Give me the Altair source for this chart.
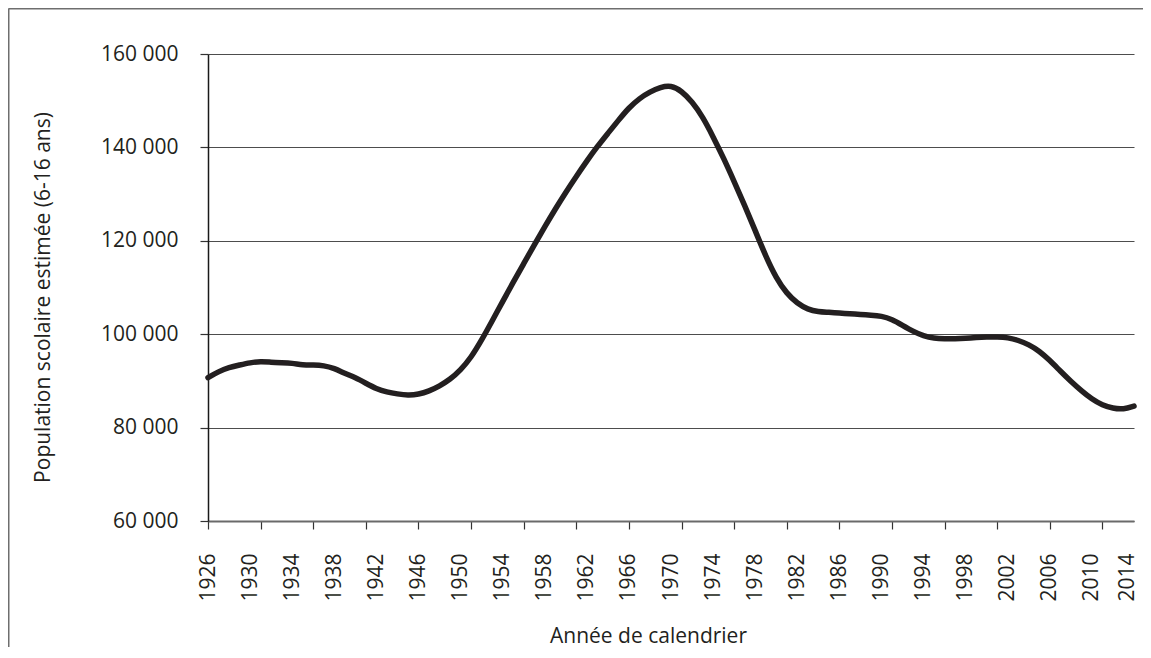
import altair as alt
import pandas as pd

years = list(range(1926, 2015))
population = [
    90700, 92000, 92900, 93400, 93900, 94200, 94000, 93900, 93800, 93400,
    93400, 93300, 92700, 91600, 90700, 89500, 88300, 87600, 87200, 86900,
    87100, 87800, 88900, 90300, 92300, 95000, 98700, 102800, 107000, 111100,
    115100, 119100, 123000, 126800, 130400, 133800, 137100, 140200, 143000, 145800,
    148500, 150500, 151900, 152900, 153300, 152100, 149800, 146600, 142300, 137700,
    132700, 127600, 122200, 116700, 112000, 108700, 106600, 105300, 104800, 104700,
    104500, 104400, 104200, 104100, 103900, 103200, 101900, 100600, 99600, 99100,
    99000, 99000, 99100, 99300, 99400, 99400, 99300, 98700, 97800, 96400,
    94400, 92100, 89900, 87900, 86100, 84800, 84100, 83900, 84600,
]

label_years = list(range(1926, 2015, 4))
tick_years = list(range(1926, 2015, 5))
axis_years = sorted(set(label_years) | set(tick_years))
y_ticks = [60000, 80000, 100000, 120000, 140000, 160000]

df = pd.DataFrame({"year": years, "pop": population})

FONT = "Open Sans"
TXT = "#231f20"

x_axis = alt.Axis(
    values=axis_years,
    labelExpr="(datum.value - 1926) % 4 === 0 ? toString(datum.value) : ''",
    labelAngle=270,
    labelAlign="right",
    labelBaseline="middle",
    labelOverlap=False,
    labelFlush=False,
    labelPadding=24,
    labelOffset={"condition": {"test": "datum.value === 2014", "value": -7}, "value": 0},
    labelFont=FONT,
    labelFontSize=21,
    labelColor=TXT,
    tickSize=8,
    tickColor="#333333",
    tickWidth=1.2,
    tickOpacity={"condition": {"test": "(datum.value - 1926) % 5 === 0", "value": 1}, "value": 0},
    domainColor="#6a6a6a",
    domainWidth=2,
    grid=False,
    title="Année de calendrier",
    titleFont=FONT,
    titleFontSize=21,
    titleFontWeight="normal",
    titleColor=TXT,
    titleX=440,
    titleY=121,
    titleAlign="center",
    titleBaseline="alphabetic",
)

y_axis = alt.Axis(
    values=y_ticks,
    labelExpr="replace(format(datum.value, ','), ',', ' ')",
    labelFont=FONT,
    labelFontSize=21,
    labelColor=TXT,
    labelPadding=22,
    tickSize=8,
    tickColor="#333333",
    tickWidth=1.2,
    domainColor="#1a1a1a",
    domainWidth=1.5,
    grid=True,
    gridColor="#4d4d4d",
    gridWidth=1.2,
    title="Population scolaire estimée (6-16 ans)",
    titleFont=FONT,
    titleFontSize=21,
    titleFontWeight="normal",
    titleColor=TXT,
    titleAngle=270,
    titleX=-165,
    titleY=243,
    titleAlign="center",
    titleBaseline="middle",
)

line = alt.Chart(df).mark_line(
    color="#231f20", strokeWidth=5.5, interpolate="basis", strokeJoin="round", strokeCap="round"
).encode(
    x=alt.X("year:Q", scale=alt.Scale(domain=[1926, 2014], nice=False, zero=False), axis=x_axis),
    y=alt.Y("pop:Q", scale=alt.Scale(domain=[60000, 160000], nice=False, zero=False), axis=y_axis),
)

frame_data = alt.Data(values=[{"f": 1}])
frame_left = alt.Chart(frame_data).mark_rule(color="#6e6e6e", strokeWidth=2).encode(
    x=alt.value(-199.5), x2=alt.value(-199.5), y=alt.value(-45.5), y2=alt.value(700)
)
frame_top = alt.Chart(frame_data).mark_rule(color="#6e6e6e", strokeWidth=2).encode(
    x=alt.value(-199.5), x2=alt.value(1000), y=alt.value(-45.5), y2=alt.value(-45.5)
)

chart = alt.layer(line, frame_left, frame_top).properties(
    width=926,
    height=467,
    autosize=alt.AutoSizeParams(type="none"),
    padding={"left": 200, "top": 46, "right": 9, "bottom": 126},
    background="white",
).configure_view(stroke=None)

chart.save("out.html", embed_options={"renderer": "svg", "actions": False})
